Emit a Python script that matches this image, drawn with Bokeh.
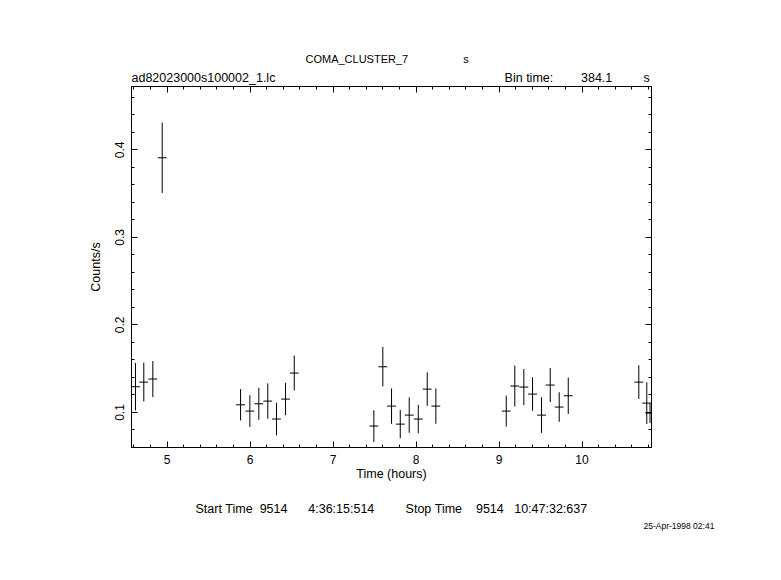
from bokeh.plotting import figure
from bokeh.models import ColumnDataSource, LinearAxis, SingleIntervalTicker, Range1d, Title
from bokeh.embed import file_html
from bokeh.resources import INLINE

# ---- data ----
time_hours = [4.620, 4.720, 4.829, 4.942,
              5.886, 5.998, 6.106, 6.214, 6.319, 6.428, 6.533,
              7.492, 7.600, 7.705, 7.810, 7.918, 8.027, 8.135, 8.239,
              9.087, 9.190, 9.299, 9.404, 9.512, 9.617, 9.725, 9.834,
              10.684, 10.780, 10.819]
rate = [0.1294, 0.1347, 0.1382, 0.3909,
        0.1088, 0.1016, 0.1099, 0.1130, 0.0925, 0.1153, 0.1450,
        0.0845, 0.1522, 0.1073, 0.0867, 0.0970, 0.0925, 0.1267, 0.1073,
        0.1016, 0.1302, 0.1290, 0.1210, 0.0970, 0.1313, 0.1062, 0.1191,
        0.1347, 0.1107, 0.0993]
rate_err = [0.0271, 0.0221, 0.0206, 0.0402,
            0.0179, 0.0181, 0.0183, 0.0203, 0.0186, 0.0185, 0.0200,
            0.0181, 0.0225, 0.0202, 0.0162, 0.0202, 0.0163, 0.0192, 0.0202,
            0.0177, 0.0234, 0.0206, 0.0192, 0.0203, 0.0194, 0.0169, 0.0208,
            0.0192, 0.0238, 0.0114]
bin_time_s = 384.1
x_range = (4.572, 10.837)
y_range = (0.060, 0.4723)

object_name = "COMA_CLUSTER_7"
file_name = "ad82023000s100002_1.lc"
start_day, start_time = "9514", "4:36:15:514"
stop_day, stop_time = "9514", "10:47:32:637"
date_text = "25-Apr-1998 02:41"

FONT = "Liberation Sans"
FS = "12px"
W, H = 773, 572
BL, BT, FW, FH = 131, 86, 520, 361

NB = "\u00a0"

half_bin = bin_time_s / 3600.0 / 2.0
src = ColumnDataSource(dict(
    t=time_hours, r=rate,
    t0=[t - half_bin for t in time_hours], t1=[t + half_bin for t in time_hours],
    r0=[r - e for r, e in zip(rate, rate_err)], r1=[r + e for r, e in zip(rate, rate_err)],
))

p = figure(width=W, height=H, output_backend="svg", toolbar_location=None,
           x_range=Range1d(*x_range), y_range=Range1d(*y_range),
           min_border_left=BL, min_border_right=W - BL - FW,
           min_border_top=BT, min_border_bottom=H - BT - FH,
           background_fill_color="white", border_fill_color="white")
p.xgrid.visible = False
p.ygrid.visible = False
p.outline_line_color = "black"
p.outline_line_width = 1

p.segment(x0="t", y0="r0", x1="t", y1="r1", source=src, line_color="black", line_width=1)
p.segment(x0="t0", y0="r", x1="t1", y1="r", source=src, line_color="black", line_width=1)


def style_axis(ax, labels=True):
    ax.axis_line_color = "black"
    ax.major_tick_in = 6
    ax.major_tick_out = 0
    ax.minor_tick_in = 3
    ax.minor_tick_out = 0
    ax.major_tick_line_color = "black"
    ax.minor_tick_line_color = "black"
    ax.major_label_text_font = FONT
    ax.major_label_text_font_size = FS if labels else "1px"
    ax.major_label_text_color = "black" if labels else None
    ax.major_label_standoff = 7 if labels else 0
    ax.axis_label_text_font = FONT
    ax.axis_label_text_font_size = "12.5px"
    ax.axis_label_text_font_style = "normal"
    ax.axis_label_text_color = "black"

p.xaxis.ticker = SingleIntervalTicker(interval=1, num_minor_ticks=5)
p.yaxis.ticker = SingleIntervalTicker(interval=0.1, num_minor_ticks=5)
style_axis(p.xaxis[0])
style_axis(p.yaxis[0])
p.xaxis.axis_label = "Time (hours)"
p.yaxis.axis_label = "Counts/s"
p.xaxis.axis_label_standoff = 0
p.yaxis.axis_label_standoff = 10
p.yaxis.major_label_orientation = "vertical"

top = LinearAxis(ticker=SingleIntervalTicker(interval=1, num_minor_ticks=5))
style_axis(top, labels=False)
p.add_layout(top, "above")
right = LinearAxis(ticker=SingleIntervalTicker(interval=0.1, num_minor_ticks=5))
style_axis(right, labels=False)
p.add_layout(right, "right")


def title(text, size, offset, standoff, place, valign="bottom"):
    t = Title(text=text, align="left", offset=offset, standoff=standoff,
              vertical_align=valign,
              text_font=FONT, text_font_size=size, text_font_style="normal",
              text_color="black")
    p.add_layout(t, place)

# header rows (later additions go further out)
row2 = file_name + NB * 66 + "Bin" + NB + "time:" + NB * 8 + f"{bin_time_s}" + NB * 9 + "s"
row1 = object_name + NB * 18 + "s"
title(row2, "12.5px", 0, 3, "above")
title(row1, "11px", 174, 6, "above")

# footer rows
foot = ("Start" + NB + "Time" + NB * 2 + start_day + NB * 6 + start_time + NB * 9 +
        "Stop" + NB + "Time" + NB * 4 + stop_day + NB * 3 + stop_time)
title(foot, "12.5px", 64, 33, "below")
title(date_text, "8.5px", 512, -24, "below", valign="top")

open("out.html", "w").write(file_html(p, INLINE))
